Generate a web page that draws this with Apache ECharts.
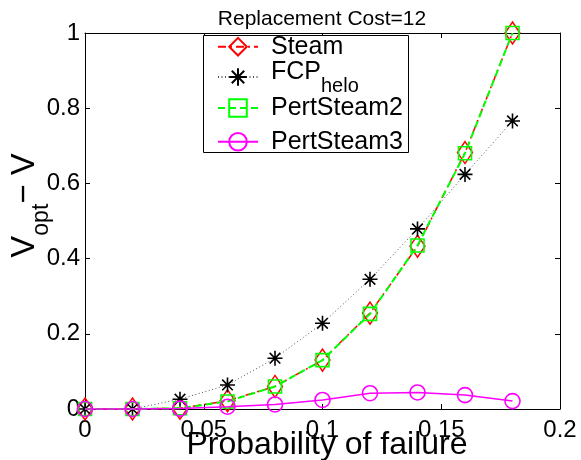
<!DOCTYPE html>
<html>
<head>
<meta charset="utf-8">
<script src="https://cdn.jsdelivr.net/npm/echarts@6/dist/echarts.min.js"></script>
<style>
html,body{margin:0;padding:0;background:#fff;}
#chart{width:581px;height:460px;}
</style>
</head>
<body>
<div id="chart"></div>
<script>
// ---- data ----
const xValues = [0, 0.02, 0.04, 0.06, 0.08, 0.10, 0.12, 0.14, 0.16, 0.18];
const steam = [0, 0, 0.002, 0.022, 0.060, 0.130, 0.255, 0.433, 0.682, 1.000];
const fcpHelo = [0, 0, 0.026, 0.064, 0.135, 0.228, 0.345, 0.479, 0.624, 0.766];
const pertSteam2 = [0, 0, 0.002, 0.020, 0.060, 0.130, 0.253, 0.435, 0.680, 1.000];
const pertSteam3 = [0, 0, 0.001, 0.006, 0.012, 0.024, 0.042, 0.044, 0.037, 0.021];
const xTickLabels = ['0', '0.05', '0.1', '0.15', '0.2'];
const yTickLabels = ['0', '0.2', '0.4', '0.6', '0.8', '1'];
const titleText = 'Replacement Cost=12';
const xLabelText = 'Probability of failure';
const seriesNames = ['Steam', 'FCPhelo', 'PertSteam2', 'PertSteam3'];

const FONT = '"Liberation Sans", Arial, Helvetica, sans-serif';
const pairs = (ys) => xValues.map((x, i) => [x, ys[i]]);
const asterisk = 'path://M0,-10L0,10M-10,0L10,0M-7.07,-7.07L7.07,7.07M-7.07,7.07L7.07,-7.07';

const chart = echarts.init(document.getElementById('chart'), null, {renderer: 'canvas'});

const axisCommon = {
  type: 'value',
  axisLine: {show: true, onZero: false, lineStyle: {color: '#000', width: 1}},
  axisTick: {show: true, inside: true, length: 5, lineStyle: {color: '#000', width: 1}},
  splitLine: {show: false}
};

// one legend row per series, stacked inside a single framed box
const legendRowTops = [34.2, 60, 95.5, 129.2];
const legendRich = {
  n: {fontSize: 25, fontFamily: FONT, color: '#000', padding: [0, 0, 0, 8]},
  m: {fontSize: 25, fontFamily: FONT, color: '#000', padding: [0, 0, 9, 8]},
  s: {fontSize: 20, fontFamily: FONT, color: '#000', padding: [19, 0, 0, 0]}
};
const legends = seriesNames.map((name, i) => ({
  orient: 'vertical', left: 203, top: legendRowTops[i],
  padding: [0, 0, 0, 14], itemWidth: 40, itemHeight: 22,
  selectedMode: false, z: 6,
  textStyle: {fontSize: 25, fontFamily: FONT, color: '#000', rich: legendRich},
  formatter: n => n === 'FCPhelo' ? '{m|FCP}{s|helo}' : '{n|' + n + '}',
  data: [name]
}));

const option = {
  animation: false,
  backgroundColor: '#fff',
  textStyle: {fontFamily: FONT},
  grid: {left: 85, top: 33, width: 475, height: 376, containLabel: false},
  xAxis: [
    Object.assign({}, axisCommon, {
      position: 'bottom', min: 0, max: 0.2, interval: 0.05,
      axisLabel: {show: true, color: '#000', fontSize: 24, fontFamily: FONT, margin: 9,
        formatter: v => xTickLabels[Math.round(v / 0.05)]}
    }),
    Object.assign({}, axisCommon, {
      position: 'top', min: 0, max: 0.2, interval: 0.05,
      axisLabel: {show: false}
    })
  ],
  yAxis: [
    Object.assign({}, axisCommon, {
      position: 'left', min: 0, max: 1, interval: 0.2,
      axisLabel: {show: true, color: '#000', fontSize: 24, fontFamily: FONT, margin: 5,
        formatter: v => yTickLabels[Math.round(v / 0.2)]}
    }),
    Object.assign({}, axisCommon, {
      position: 'right', min: 0, max: 1, interval: 0.2,
      axisLabel: {show: false}
    })
  ],
  legend: legends,
  series: [
    {
      name: seriesNames[0], type: 'line', data: pairs(steam), clip: false,
      symbol: 'diamond', symbolSize: [15, 22],
      itemStyle: {color: 'transparent', borderColor: '#ff0000', borderWidth: 1.5},
      lineStyle: {color: '#ff0000', width: 1.5, type: [8, 4, 2, 4]},
      z: 2
    },
    {
      name: seriesNames[1], type: 'line', data: pairs(fcpHelo), clip: false,
      symbol: asterisk, symbolSize: 15,
      itemStyle: {color: 'transparent', borderColor: '#000', borderWidth: 1.6},
      lineStyle: {color: '#555', width: 1, type: [1, 2.5]},
      z: 3
    },
    {
      name: seriesNames[2], type: 'line', data: pairs(pertSteam2), clip: false,
      symbol: 'rect', symbolSize: 13,
      itemStyle: {color: 'transparent', borderColor: '#00ff00', borderWidth: 1.6},
      lineStyle: {color: '#00ff00', width: 2, type: [7, 4]},
      z: 4
    },
    {
      name: seriesNames[3], type: 'line', data: pairs(pertSteam3), clip: false,
      symbol: 'circle', symbolSize: 15,
      itemStyle: {color: 'transparent', borderColor: '#ff00ff', borderWidth: 1.6},
      lineStyle: {color: '#ff00ff', width: 1.5, type: 'solid'},
      z: 5
    }
  ],
  graphic: [
    {
      type: 'rect', z: 5,
      shape: {x: 203.5, y: 35.5, width: 205, height: 117},
      style: {fill: '#fff', stroke: '#000', lineWidth: 1}
    },
    {
      type: 'text', x: 322, y: 19.5, z: 100,
      style: {text: titleText, fontSize: 21, fontFamily: FONT, fill: '#000', align: 'center', verticalAlign: 'middle'}
    },
    {
      type: 'text', x: 327, y: 445, z: 100,
      style: {text: xLabelText, fontSize: 32, fontFamily: FONT, fill: '#000', align: 'center', verticalAlign: 'middle'}
    },
    {
      type: 'text', x: 25, y: 205.5, rotation: Math.PI / 2, z: 100,
      style: {
        text: '{v|V}{s|opt}{v|\u2212 V}', align: 'center', verticalAlign: 'middle',
        rich: {
          v: {fontSize: 33, fontFamily: FONT, fill: '#000', color: '#000', lineHeight: 36},
          s: {fontSize: 23, fontFamily: FONT, fill: '#000', color: '#000', lineHeight: 36, padding: [34, 0, 0, 0]}
        }
      }
    }
  ]
};

chart.setOption(option);
</script>
</body>
</html>
